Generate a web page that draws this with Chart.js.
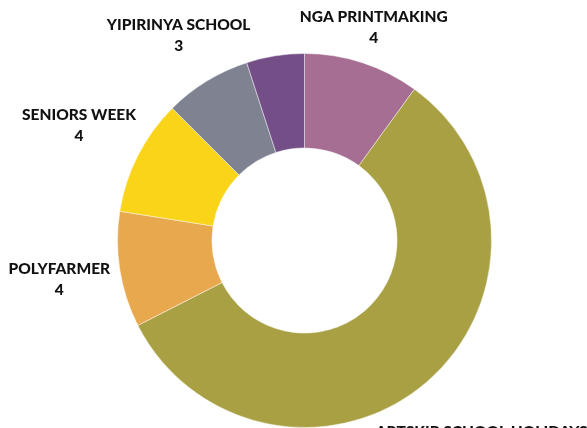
<!DOCTYPE html>
<html>
<head>
<meta charset="utf-8">
<script src="https://cdn.jsdelivr.net/npm/chart.js@4/dist/chart.umd.min.js"></script>
<style>
  html, body { margin: 0; padding: 0; background: #ffffff; }
  #wrap { width: 587px; height: 428px; position: relative; }
</style>
</head>
<body>
<div id="wrap"><canvas id="c" width="587" height="428"></canvas></div>
<script>
const categories = ['NGA PRINTMAKING', 'ARTSKIP SCHOOL HOLIDAYS', 'POLYFARMER', 'SENIORS WEEK', 'YIPIRINYA SCHOOL', ''];
const values = [4, 23, 4, 4, 3, 2];
const colors = ['#A56E92', '#A8A043', '#E8A84E', '#F9D419', '#7E8291', '#734E87'];

const labelFont = '900 15.5px Lato, "Open Sans", sans-serif';

const outsideLabels = {
  id: 'outsideLabels',
  afterDatasetsDraw(chart) {
    const ctx = chart.ctx;
    const meta = chart.getDatasetMeta(0);
    const ds = chart.data.datasets[0];
    ctx.save();
    ctx.font = labelFont;
    ctx.fillStyle = '#111111';
    ctx.textAlign = 'center';
    ctx.textBaseline = 'middle';
    const lineH = 21;
    meta.data.forEach((arc, i) => {
      const name = chart.data.labels[i];
      if (!name) return;
      const p = arc.getProps(['x', 'y', 'startAngle', 'endAngle', 'outerRadius'], true);
      const mid = (p.startAngle + p.endAngle) / 2;
      const vx = Math.cos(mid), vy = Math.sin(mid);
      const lines = [name, String(ds.data[i])];
      const w = Math.max(...lines.map(t => ctx.measureText(t).width));
      const h = lineH * lines.length;
      const ext = Math.abs(vx) * w / 2 + Math.abs(vy) * h / 2;
      const gap = -12 + 20 * Math.abs(vx);
      const r = p.outerRadius + gap + ext;
      const cx = p.x + vx * r;
      // keep the top line's glyph tops just inside the canvas bottom
      const cy = Math.min(p.y + vy * r, chart.height + 14.5);
      lines.forEach((t, k) => {
        ctx.fillText(t, cx, cy - h / 2 + lineH * (k + 0.5));
      });
    });
    ctx.restore();
  }
};

new Chart(document.getElementById('c'), {
  type: 'doughnut',
  data: {
    labels: categories,
    datasets: [{
      data: values,
      backgroundColor: colors,
      borderColor: 'rgba(255,255,255,0.45)',
      borderWidth: 1
    }]
  },
  options: {
    responsive: false,
    animation: false,
    cutout: '49.5%',
    layout: { padding: { left: 117, right: 95, top: 53, bottom: 0 } },
    plugins: {
      legend: { display: false },
      tooltip: { enabled: false }
    }
  },
  plugins: [outsideLabels]
});
</script>
</body>
</html>
